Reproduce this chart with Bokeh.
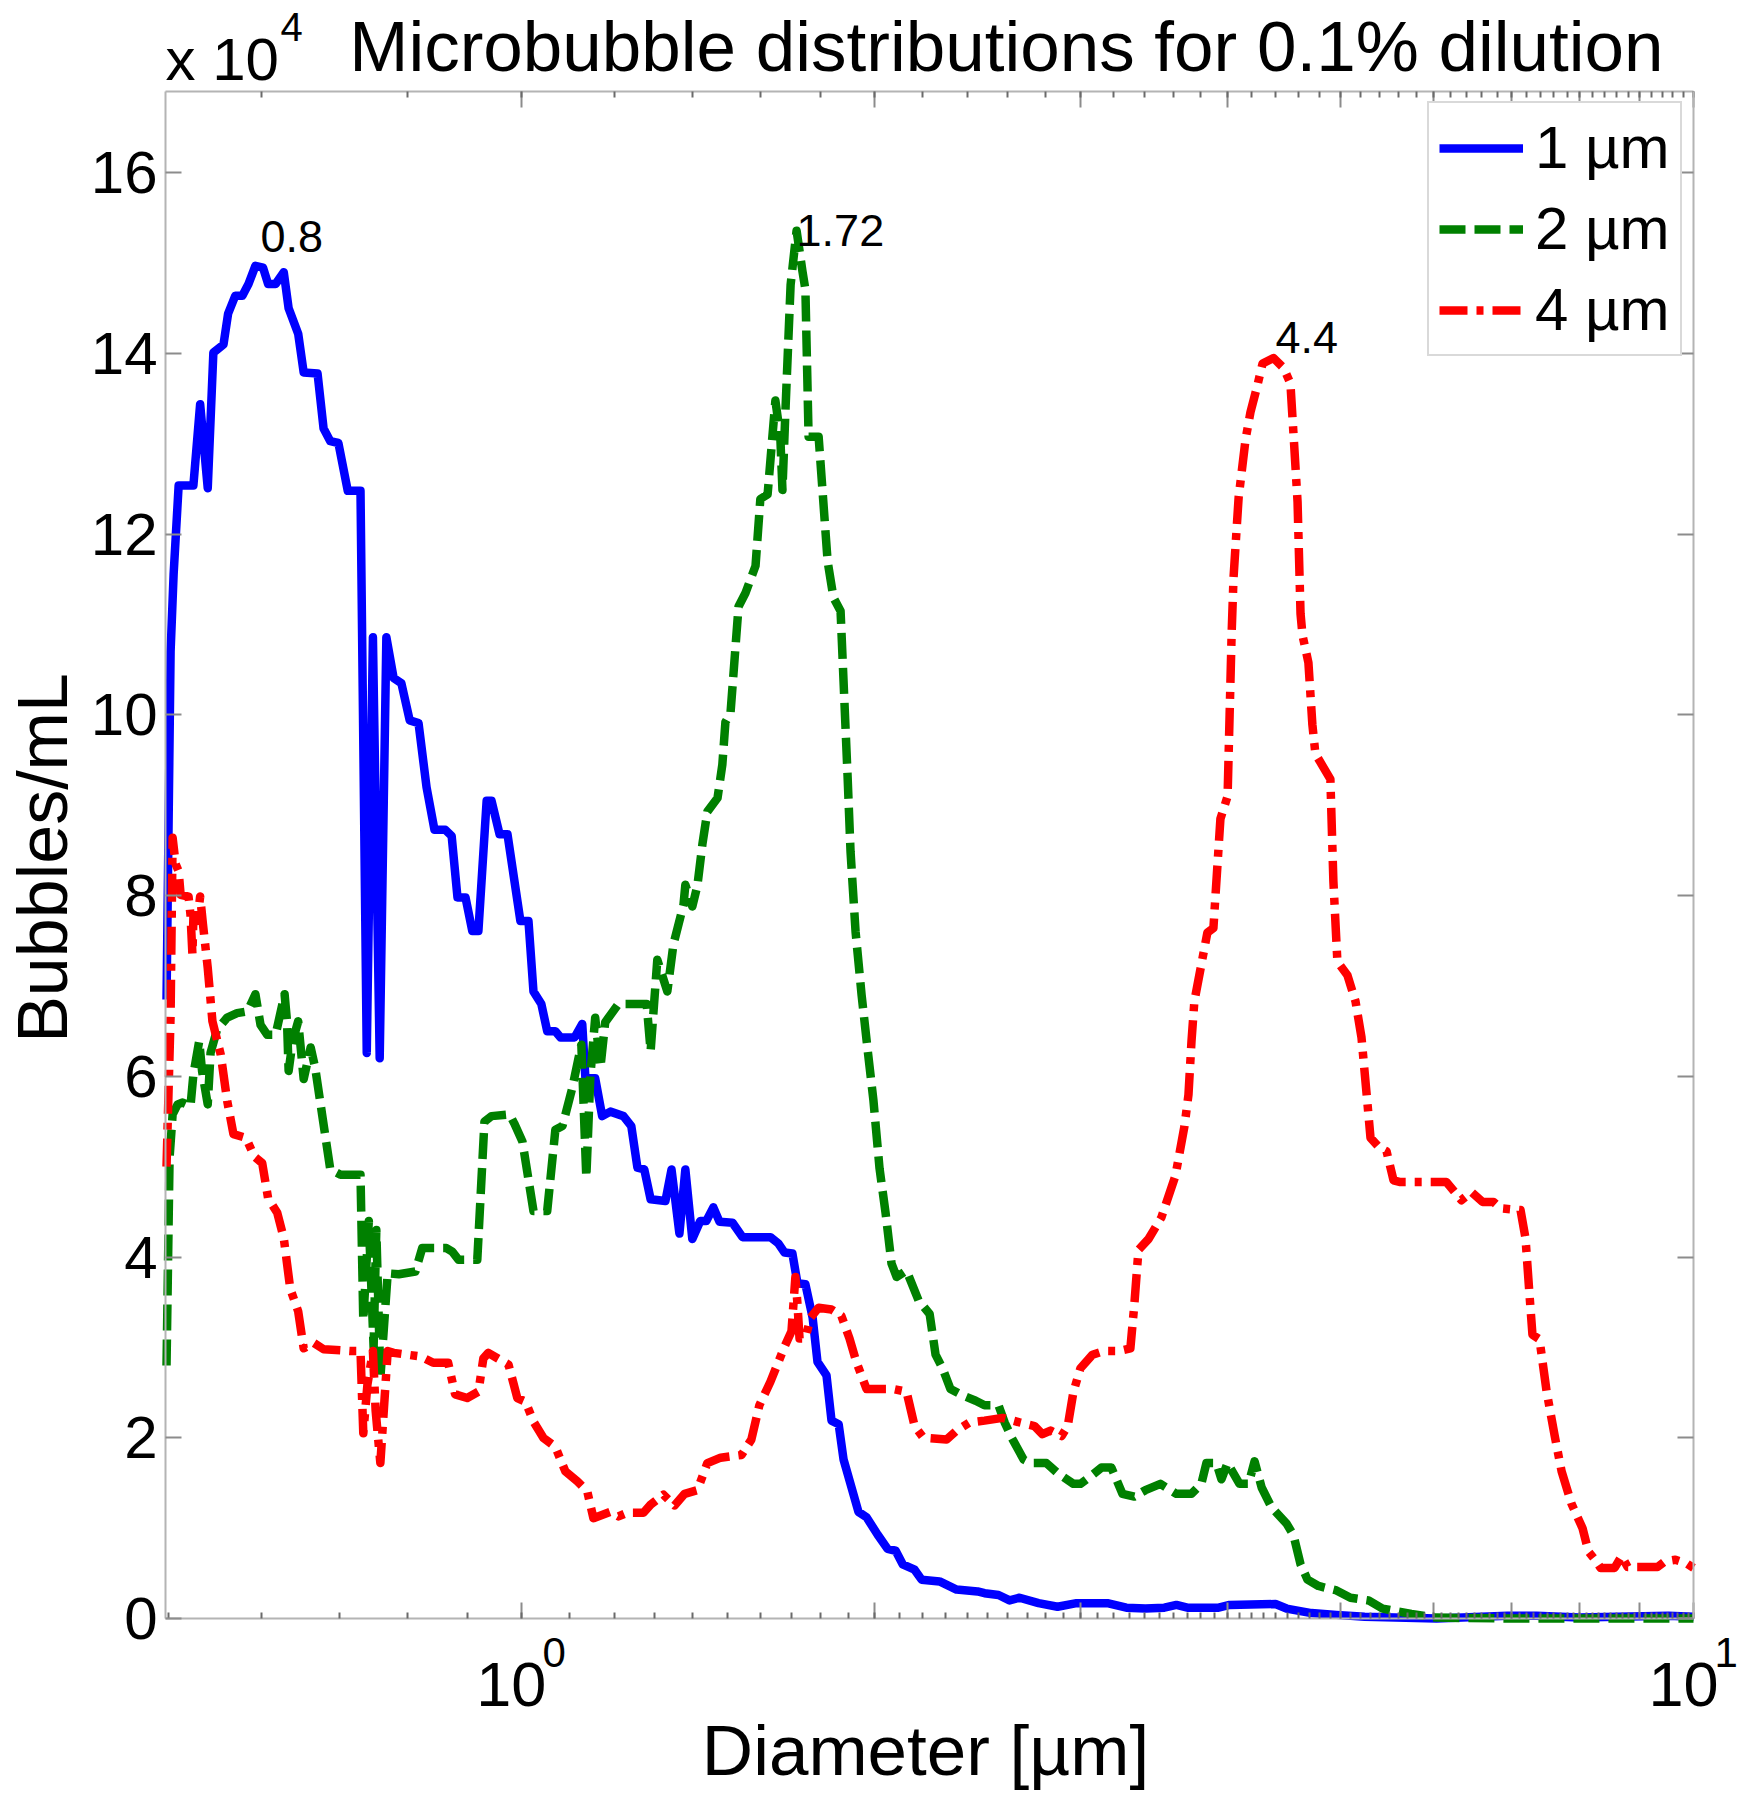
import math
from bokeh.plotting import figure
from bokeh.models import (Label, Legend, LegendItem, FixedTicker, LogTicker, LogAxis,
                          LinearAxis, CustomJSTickFormatter)
from bokeh.embed import file_html
from bokeh.resources import INLINE

# ---------------- data (diameter in um, counts in 1e4 bubbles/mL) ----------------
diam_1um = [0.498, 0.502, 0.505, 0.510, 0.525, 0.532, 0.540, 0.546, 0.557, 0.562, 0.570, 0.578,
            0.585, 0.593, 0.602, 0.608, 0.617, 0.627, 0.633, 0.645, 0.652, 0.670, 0.678, 0.687,
            0.698, 0.711, 0.729, 0.738, 0.747, 0.757, 0.767, 0.778, 0.790, 0.803, 0.817, 0.830,
            0.843, 0.861, 0.872, 0.882, 0.896, 0.908, 0.919, 0.934, 0.943, 0.958, 0.973, 0.998,
            1.014, 1.024, 1.040, 1.052, 1.069, 1.080, 1.110, 1.127, 1.134, 1.156, 1.172, 1.191,
            1.222, 1.241, 1.256, 1.273, 1.289, 1.327, 1.343, 1.364, 1.380, 1.399, 1.421, 1.438,
            1.458, 1.476, 1.514, 1.544, 1.631, 1.657, 1.677, 1.703, 1.720, 1.747, 1.772, 1.789,
            1.821, 1.839, 1.865, 1.883, 1.939, 1.970, 2.013, 2.053, 2.086, 2.115, 2.165, 2.195,
            2.274, 2.351, 2.450, 2.484, 2.553, 2.609, 2.661, 2.762, 2.867, 2.976, 3.162, 3.282,
            3.407, 3.536, 3.621, 3.700, 3.934, 4.020, 4.399, 4.496, 4.721, 4.959, 5.241, 6.035,
            6.939, 7.345, 7.991, 9.521, 10.0]
count_1um = [6.85, 10.70, 11.56, 12.54, 12.54, 13.44, 12.51, 14.01, 14.10, 14.44, 14.64, 14.64,
             14.77, 14.97, 14.95, 14.77, 14.77, 14.90, 14.50, 14.22, 13.79, 13.78, 13.17, 13.03,
             13.01, 12.48, 12.48, 6.26, 10.86, 6.20, 10.86, 10.41, 10.35, 9.94, 9.91, 9.20,
             8.73, 8.73, 8.66, 7.98, 7.98, 7.61, 7.61, 9.05, 9.05, 8.68, 8.68, 7.72,
             7.72, 6.94, 6.80, 6.50, 6.50, 6.43, 6.43, 6.58, 5.98, 5.98, 5.56, 5.61,
             5.56, 5.45, 4.99, 4.97, 4.64, 4.62, 4.97, 4.26, 4.97, 4.20, 4.40, 4.40,
             4.55, 4.39, 4.38, 4.22, 4.22, 4.15, 4.05, 4.04, 3.71, 3.70, 3.33, 2.84,
             2.69, 2.19, 2.15, 1.76, 1.18, 1.12, 0.93, 0.77, 0.75, 0.60, 0.54, 0.43,
             0.41, 0.32, 0.30, 0.28, 0.26, 0.20, 0.23, 0.17, 0.13, 0.17, 0.17, 0.12,
             0.11, 0.12, 0.15, 0.12, 0.12, 0.15, 0.16, 0.11, 0.06, 0.04, 0.02, 0.00,
             0.03, 0.03, 0.01, 0.03, 0.02]

diam_2um = [0.498, 0.501, 0.504, 0.509, 0.514, 0.522, 0.525, 0.531, 0.534, 0.540, 0.543, 0.550,
            0.561, 0.572, 0.584, 0.593, 0.599, 0.607, 0.617, 0.628, 0.631, 0.633, 0.638, 0.645,
            0.652, 0.661, 0.667, 0.676, 0.687, 0.701, 0.729, 0.733, 0.741, 0.748, 0.752, 0.758,
            0.769, 0.786, 0.812, 0.823, 0.863, 0.873, 0.884, 0.917, 0.930, 0.943, 0.977, 0.986,
            1.002, 1.024, 1.052, 1.069, 1.084, 1.105, 1.125, 1.136, 1.145, 1.156, 1.168, 1.179,
            1.210, 1.279, 1.289, 1.306, 1.332, 1.348, 1.375, 1.380, 1.399, 1.413, 1.427, 1.441,
            1.470, 1.484, 1.493, 1.508, 1.532, 1.553, 1.584, 1.599, 1.622, 1.647, 1.663, 1.670,
            1.680, 1.697, 1.717, 1.737, 1.747, 1.758, 1.793, 1.825, 1.846, 1.872, 1.898, 1.909,
            1.928, 1.951, 1.974, 1.997, 2.021, 2.045, 2.069, 2.090, 2.131, 2.182, 2.230, 2.256,
            2.287, 2.323, 2.378, 2.441, 2.484, 2.553, 2.584, 2.620, 2.682, 2.719, 2.805, 2.867,
            2.958, 2.999, 3.071, 3.125, 3.187, 3.257, 3.334, 3.407, 3.509, 3.621, 3.730, 3.803,
            3.841, 3.917, 3.956, 4.004, 4.099, 4.173, 4.222, 4.281, 4.365, 4.496, 4.558, 4.621,
            4.685, 4.786, 4.959, 5.097, 5.282, 5.429, 5.745, 6.035, 6.939, 10.0]
count_2um = [2.80, 5.10, 5.58, 5.69, 5.71, 5.67, 6.02, 6.39, 6.06, 5.69, 6.26, 6.52,
             6.65, 6.70, 6.72, 6.91, 6.57, 6.46, 6.46, 6.91, 6.61, 6.06, 6.39, 6.61,
             5.97, 6.32, 6.09, 5.58, 4.97, 4.91, 4.91, 3.30, 4.40, 3.00, 4.30, 2.66,
             3.82, 3.81, 3.84, 4.10, 4.10, 4.06, 3.97, 3.97, 5.50, 5.56, 5.58, 5.48,
             5.28, 4.51, 4.51, 5.41, 5.45, 5.87, 6.35, 4.88, 6.00, 6.65, 6.10, 6.60,
             6.80, 6.80, 6.28, 7.29, 6.94, 7.46, 7.90, 8.12, 7.88, 8.11, 8.57, 8.93,
             9.08, 9.45, 9.92, 10.02, 11.20, 11.35, 11.65, 12.39, 12.44, 13.48, 13.08, 12.49,
             13.38, 14.76, 15.36, 14.91, 14.71, 13.08, 13.08, 11.70, 11.30, 11.15, 9.32, 8.49,
             7.60, 6.90, 6.30, 5.73, 4.98, 4.49, 3.93, 3.78, 3.85, 3.52, 3.37, 2.92,
             2.77, 2.54, 2.47, 2.41, 2.36, 2.36, 2.17, 2.00, 1.76, 1.72, 1.72, 1.61,
             1.49, 1.49, 1.59, 1.67, 1.67, 1.38, 1.35, 1.42, 1.49, 1.38, 1.38, 1.49,
             1.72, 1.72, 1.54, 1.72, 1.49, 1.49, 1.74, 1.45, 1.23, 1.05, 0.92, 0.60,
             0.43, 0.36, 0.31, 0.23, 0.20, 0.11, 0.05, 0.01, 0.00, 0.00]

diam_4um = [0.498, 0.502, 0.504, 0.507, 0.510, 0.512, 0.520, 0.522, 0.524, 0.525, 0.529, 0.532,
            0.535, 0.540, 0.545, 0.554, 0.561, 0.568, 0.582, 0.592, 0.601, 0.608, 0.619, 0.627,
            0.635, 0.645, 0.652, 0.665, 0.678, 0.715, 0.729, 0.733, 0.739, 0.747, 0.751, 0.758,
            0.769, 0.778, 0.820, 0.841, 0.866, 0.878, 0.899, 0.919, 0.928, 0.937, 0.954, 0.975,
            0.992, 1.008, 1.024, 1.044, 1.069, 1.090, 1.116, 1.138, 1.152, 1.191, 1.210, 1.231,
            1.271, 1.289, 1.322, 1.351, 1.378, 1.413, 1.441, 1.479, 1.541, 1.571, 1.596, 1.631,
            1.677, 1.700, 1.713, 1.720, 1.727, 1.747, 1.765, 1.793, 1.839, 1.875, 1.905, 1.931,
            1.970, 2.077, 2.131, 2.165, 2.203, 2.305, 2.351, 2.412, 2.484, 2.574, 2.661, 2.740,
            2.783, 2.828, 2.890, 2.925, 2.958, 2.999, 3.071, 3.138, 3.232, 3.308, 3.334, 3.361,
            3.428, 3.516, 3.614, 3.679, 3.708, 3.730, 3.751, 3.848, 3.894, 3.948, 4.004, 4.020,
            4.036, 4.051, 4.092, 4.148, 4.188, 4.246, 4.289, 4.382, 4.470, 4.530, 4.558, 4.594,
            4.621, 4.639, 4.693, 4.730, 4.758, 4.900, 4.929, 4.968, 5.067, 5.148, 5.209, 5.261,
            5.302, 5.397, 5.472, 5.547, 5.623, 6.154, 6.339, 6.465, 6.607, 6.751, 6.844, 7.119,
            7.189, 7.246, 7.288, 7.389, 7.492, 7.611, 7.717, 7.869, 8.041, 8.136, 8.265, 8.331,
            8.564, 8.683, 8.786, 9.318, 9.448, 9.652, 9.863, 10.0]
count_4um = [5.00, 6.68, 8.64, 8.35, 8.27, 8.01, 7.99, 7.79, 7.35, 7.76, 7.72, 7.99,
             7.68, 7.20, 6.61, 6.24, 5.73, 5.36, 5.32, 5.11, 5.04, 4.65, 4.49, 4.21,
             3.65, 3.40, 2.99, 3.05, 2.98, 2.96, 2.96, 2.05, 2.59, 2.96, 2.30, 1.72,
             2.96, 2.94, 2.90, 2.83, 2.83, 2.48, 2.44, 2.51, 2.88, 2.94, 2.88, 2.81,
             2.44, 2.40, 2.18, 2.00, 1.90, 1.63, 1.52, 1.41, 1.11, 1.18, 1.13, 1.17,
             1.17, 1.26, 1.37, 1.25, 1.38, 1.42, 1.72, 1.78, 1.81, 1.98, 2.36, 2.62,
             3.01, 3.18, 3.78, 3.48, 3.10, 3.10, 3.33, 3.44, 3.42, 3.35, 3.10, 2.84,
             2.54, 2.54, 2.51, 2.13, 2.00, 1.98, 2.08, 2.17, 2.19, 2.22, 2.17, 2.13,
             2.04, 2.08, 2.02, 2.13, 2.51, 2.77, 2.92, 2.96, 2.96, 2.99, 3.48, 4.08,
             4.20, 4.44, 4.90, 5.45, 5.80, 6.39, 6.83, 7.59, 7.64, 8.85, 9.10, 10.00,
             10.90, 11.52, 12.41, 13.05, 13.35, 13.65, 13.89, 13.95, 13.84, 13.67, 13.10, 12.36,
             11.12, 10.88, 10.58, 9.89, 9.57, 9.29, 8.16, 7.27, 7.12, 6.83, 6.43, 5.81,
             5.32, 5.21, 5.17, 4.85, 4.83, 4.83, 4.63, 4.72, 4.61, 4.61, 4.54, 4.52,
             4.21, 3.58, 3.14, 3.09, 2.52, 2.03, 1.63, 1.27, 1.00, 0.74, 0.63, 0.56,
             0.56, 0.69, 0.57, 0.57, 0.63, 0.65, 0.61, 0.56]

legend_labels = ["1 µm", "2 µm", "4 µm"]
peak_labels = ["0.8", "1.72", "4.4"]
y_ticks = [0, 2, 4, 6, 8, 10, 12, 14, 16]
x_major_ticks = [1, 10]
x_tick_base = ["10", "10"]
x_tick_exp = ["0", "1"]
title_text = "Microbubble distributions for 0.1% dilution"
x_label_text = "Diameter [µm]"
y_label_text = "Bubbles/mL"
scale_base_text = "x 10"
scale_exp_text = "4"

# ---------------- layout ----------------
FONT = "Liberation Sans"
AX = "#b4b4b4"
W, H = 1743, 1800
X_LO, X_HI = 0.497, 10.0          # axes box limits (data)
Y_LO, Y_HI = 0.0, 16.9
BOX_L, BOX_R, BOX_T, BOX_B = 165, 1693, 91, 1618   # axes box position in the canvas (px)

# view ranges cover the whole canvas so that texts outside the axes box are not clipped
dec_px = (BOX_R - BOX_L) / math.log10(X_HI / X_LO)
VX_LO = 10 ** (math.log10(X_LO) - BOX_L / dec_px)
VX_HI = 10 ** (math.log10(X_HI) + (W - BOX_R) / dec_px)
unit_px = (BOX_B - BOX_T) / (Y_HI - Y_LO)
VY_LO = Y_LO - (H - BOX_B) / unit_px
VY_HI = Y_HI + BOX_T / unit_px

p = figure(width=W, height=H, x_axis_type="log",
           x_range=(VX_LO, VX_HI), y_range=(VY_LO, VY_HI),
           output_backend="svg", toolbar_location=None, title=None,
           min_border_left=0, min_border_right=0, min_border_top=0, min_border_bottom=0)
p.background_fill_color = "white"
p.border_fill_color = "white"
p.outline_line_color = None
p.xgrid.grid_line_color = None
p.ygrid.grid_line_color = None


def style_axis(ax, loc, bounds):
    ax.fixed_location = loc
    ax.bounds = bounds
    ax.formatter = CustomJSTickFormatter(code="return ''")
    ax.major_label_text_font_size = "1px"
    ax.major_label_standoff = 0
    ax.axis_line_color = AX
    ax.axis_line_width = 2
    ax.major_tick_line_color = "#8c8c8c"
    ax.major_tick_line_width = 2
    ax.major_tick_in = 16
    ax.major_tick_out = 0
    ax.minor_tick_line_color = "#6a6a6a"
    ax.minor_tick_line_width = 2
    ax.minor_tick_in = 6
    ax.minor_tick_out = 0


style_axis(p.xaxis[0], Y_LO, (X_LO, X_HI))
p.yaxis[0].ticker = FixedTicker(ticks=y_ticks)
style_axis(p.yaxis[0], X_LO, (Y_LO, Y_HI))

top_ax = LogAxis(ticker=LogTicker())
style_axis(top_ax, Y_HI, (X_LO, X_HI))
p.add_layout(top_ax, "above")

right_ax = LinearAxis(ticker=FixedTicker(ticks=y_ticks))
style_axis(right_ax, X_HI, (Y_LO, Y_HI))
p.add_layout(right_ax, "right")

# ---------------- curves ----------------
r1 = p.line(diam_1um, count_1um, line_color="#0000ff", line_width=8.5, line_join="round")
r2 = p.line(diam_2um, count_2um, line_color="#008000", line_width=8.5, line_join="round",
            line_dash="26 9")
r3 = p.line(diam_4um, count_4um, line_color="#ff0000", line_width=8.5, line_join="round",
            line_dash="28 9 7 9")

legend = Legend(items=[LegendItem(label=legend_labels[0], renderers=[r1]),
                       LegendItem(label=legend_labels[1], renderers=[r2]),
                       LegendItem(label=legend_labels[2], renderers=[r3])],
                location=(1427, H - 356), margin=0, padding=10, spacing=12,
                glyph_width=84, glyph_height=40, label_standoff=12,
                label_text_font=FONT, label_text_font_size="60px", label_text_color="black",
                border_line_color=AX, border_line_width=2,
                background_fill_color="white", background_fill_alpha=1.0)
p.add_layout(legend)


def add_label(x, y, text, size, align="left", dx=0, dy=0, angle=0.0):
    # anchor = vertical middle of the text
    p.add_layout(Label(x=x, y=y, text=text, text_font=FONT, text_font_size=size,
                       text_color="black", text_align=align, text_baseline="middle",
                       x_offset=dx, y_offset=dy, angle=angle))


# peak annotations, anchored at each series' maximum
peak_offsets = [(5, 29), (0, 0), (2, 21)]
for xs, ys, txt, (dx, dy) in zip([diam_1um, diam_2um, diam_4um],
                                 [count_1um, count_2um, count_4um],
                                 peak_labels, peak_offsets):
    i = max(range(len(ys)), key=lambda k: ys[k])
    add_label(xs[i], ys[i], txt, "45px", dx=dx, dy=dy)

# y tick labels
for t in y_ticks:
    add_label(X_LO, t, str(t), "60px", align="right", dx=-8, dy=0)

# x tick labels 10^0, 10^1
for t, b, e in zip(x_major_ticks, x_tick_base, x_tick_exp):
    add_label(t, Y_LO, b, "63px", align="right", dx=25, dy=-66)
    add_label(t, Y_LO, e, "42px", align="left", dx=21, dy=-34)

x_mid = math.sqrt(X_LO * X_HI)
y_mid = (Y_LO + Y_HI) / 2.0
add_label(x_mid, Y_LO, x_label_text, "71px", align="center", dx=-4, dy=-132)
add_label(X_LO, y_mid, y_label_text, "70px", align="center", dx=-123, dy=-3, angle=math.pi / 2)
add_label(X_HI, Y_HI, title_text, "71px", align="right", dx=-30, dy=45)
add_label(X_LO, Y_HI, scale_base_text, "60px", align="left", dx=0, dy=32)
add_label(X_LO, Y_HI, scale_exp_text, "40px", align="left", dx=115, dy=65)

open("out.html", "w").write(file_html(p, INLINE))
